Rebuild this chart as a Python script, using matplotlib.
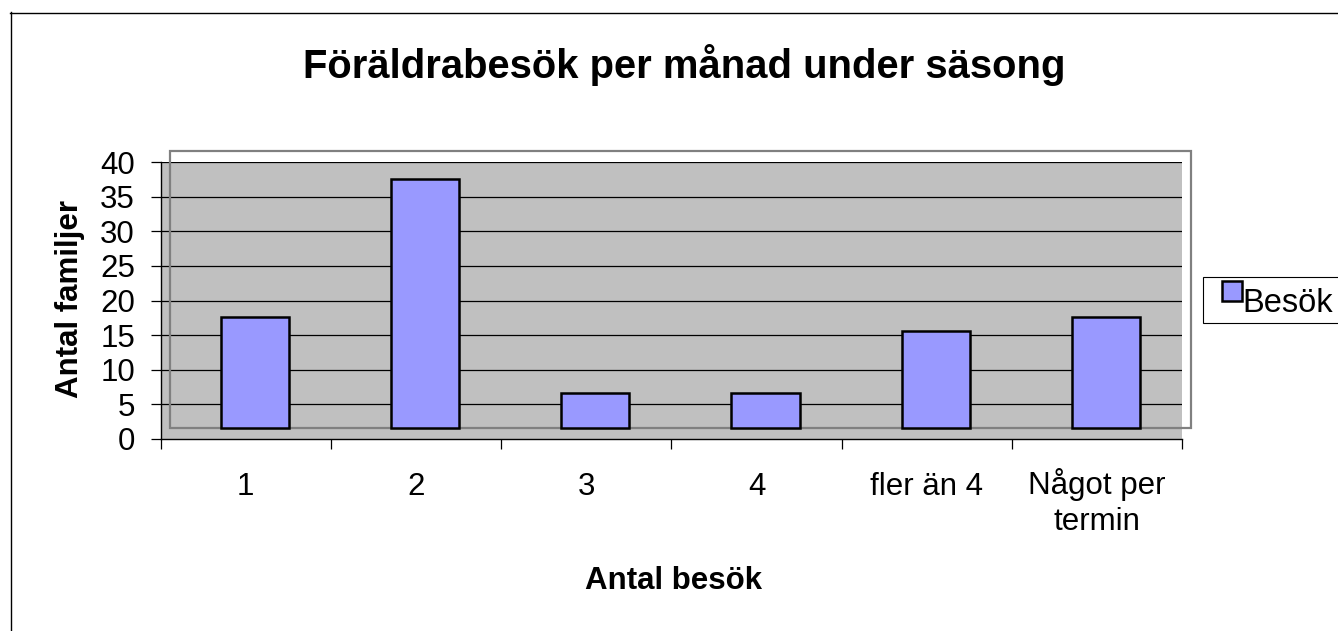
import matplotlib
matplotlib.use("Agg")
import matplotlib.pyplot as plt
from matplotlib.patches import Rectangle
from matplotlib.lines import Line2D
from matplotlib.transforms import ScaledTranslation

categories = ["1", "2", "3", "4", "fler än 4", "Något per\ntermin"]
values = [16, 36, 5, 5, 14, 16]
series_name = "Besök"
title = "Föräldrabesök per månad under säsong"
xlabel = "Antal besök"
ylabel = "Antal familjer"
yticks = [0, 5, 10, 15, 20, 25, 30, 35, 40]

plt.rcParams['font.family'] = ['Liberation Sans', 'DejaVu Sans']

W, H = 1338, 631
fig = plt.figure(figsize=(W / 100, H / 100), dpi=100)

# axes in pixel coords
L, R, T, B = 160.7, 1182, 162, 439
ax = fig.add_axes([L / W, 1 - B / H, (R - L) / W, (B - T) / H])
ax.set_facecolor('#c0c0c0')
ax.set_xlim(-0.5, len(categories) - 0.5)
ax.set_ylim(0, 40)

# 3D depth offset (in data units)
dx = 0.053
dy = 1.59

x = list(range(len(categories)))
bars = ax.bar([xi + dx for xi in x], values, width=0.40, bottom=dy,
              color='#9999ff', edgecolor='black', linewidth=1.8, zorder=3,
              label=series_name)

# gridlines
for yv in yticks[1:]:
    ax.axhline(yv, color='black', linewidth=0.9, zorder=1)

# offset outline (back wall)
ax.add_patch(Rectangle((-0.5 + dx, dy), len(categories), 40, fill=False,
                       edgecolor='#808080', linewidth=1.6, clip_on=False,
                       zorder=2))

for s in ['top', 'right']:
    ax.spines[s].set_visible(False)
ax.spines['left'].set_color('black')
ax.spines['bottom'].set_color('black')
ax.spines['left'].set_linewidth(1.0)
ax.spines['bottom'].set_linewidth(1.0)

ax.set_yticks(yticks)
ax.set_yticklabels([str(v) for v in yticks])
ax.tick_params(axis='y', length=7.5, width=0.9, pad=11, labelsize=22.5)

ax.set_xticks(x)
ax.set_xticklabels(categories, linespacing=1.25)
ax.set_xticks([xi - 0.5 for xi in x] + [len(categories) - 0.5], minor=True)
ax.tick_params(axis='x', which='major', length=0, pad=24, labelsize=22.5)
ax.tick_params(axis='x', which='minor', length=7.5, width=0.9)

# nudge the two-line label up so its first line aligns with the others
for lbl in ax.get_xticklabels():
    if '\n' in lbl.get_text():
        lbl.set_transform(lbl.get_transform() +
                          ScaledTranslation(0, 4 / 100, fig.dpi_scale_trans))

ax.set_xlabel(xlabel, fontsize=22.5, fontweight='bold')
ax.xaxis.set_label_coords(0.502, -0.459)
ax.set_ylabel(ylabel, fontsize=22.5, fontweight='bold')
ax.yaxis.set_label_coords(-0.074, 0.505)

fig.text(684 / W, 1 - 78 / H, title, ha='center', va='baseline',
         fontsize=28.8, fontweight='bold')

# legend (drawn in figure pixel coordinates)
def px(xp, yp):
    return xp / W, 1 - yp / H

fx, fy = px(1203, 323)
fig.add_artist(Rectangle((fx, fy), (1345 - 1203) / W, (323 - 277) / H,
                         transform=fig.transFigure, facecolor='white',
                         edgecolor='black', linewidth=0.8))
hx, hy = px(1222, 301)
fig.add_artist(Rectangle((hx, hy), 20 / W, 20 / H, transform=fig.transFigure,
                         facecolor='#9999ff', edgecolor='black', linewidth=1.8))
tx, ty = px(1242, 312)
fig.text(tx, ty, series_name, ha='left', va='baseline', fontsize=23.5)

# outer chart border
fig.add_artist(Line2D([10.5 / W, 10.5 / W], [0, 1 - 12 / H], color='black',
                      linewidth=1.0, transform=fig.transFigure))
fig.add_artist(Line2D([10 / W, 1], [1 - 12.5 / H, 1 - 12.5 / H], color='black',
                      linewidth=1.0, transform=fig.transFigure))

fig.savefig('out.png', dpi=100)
